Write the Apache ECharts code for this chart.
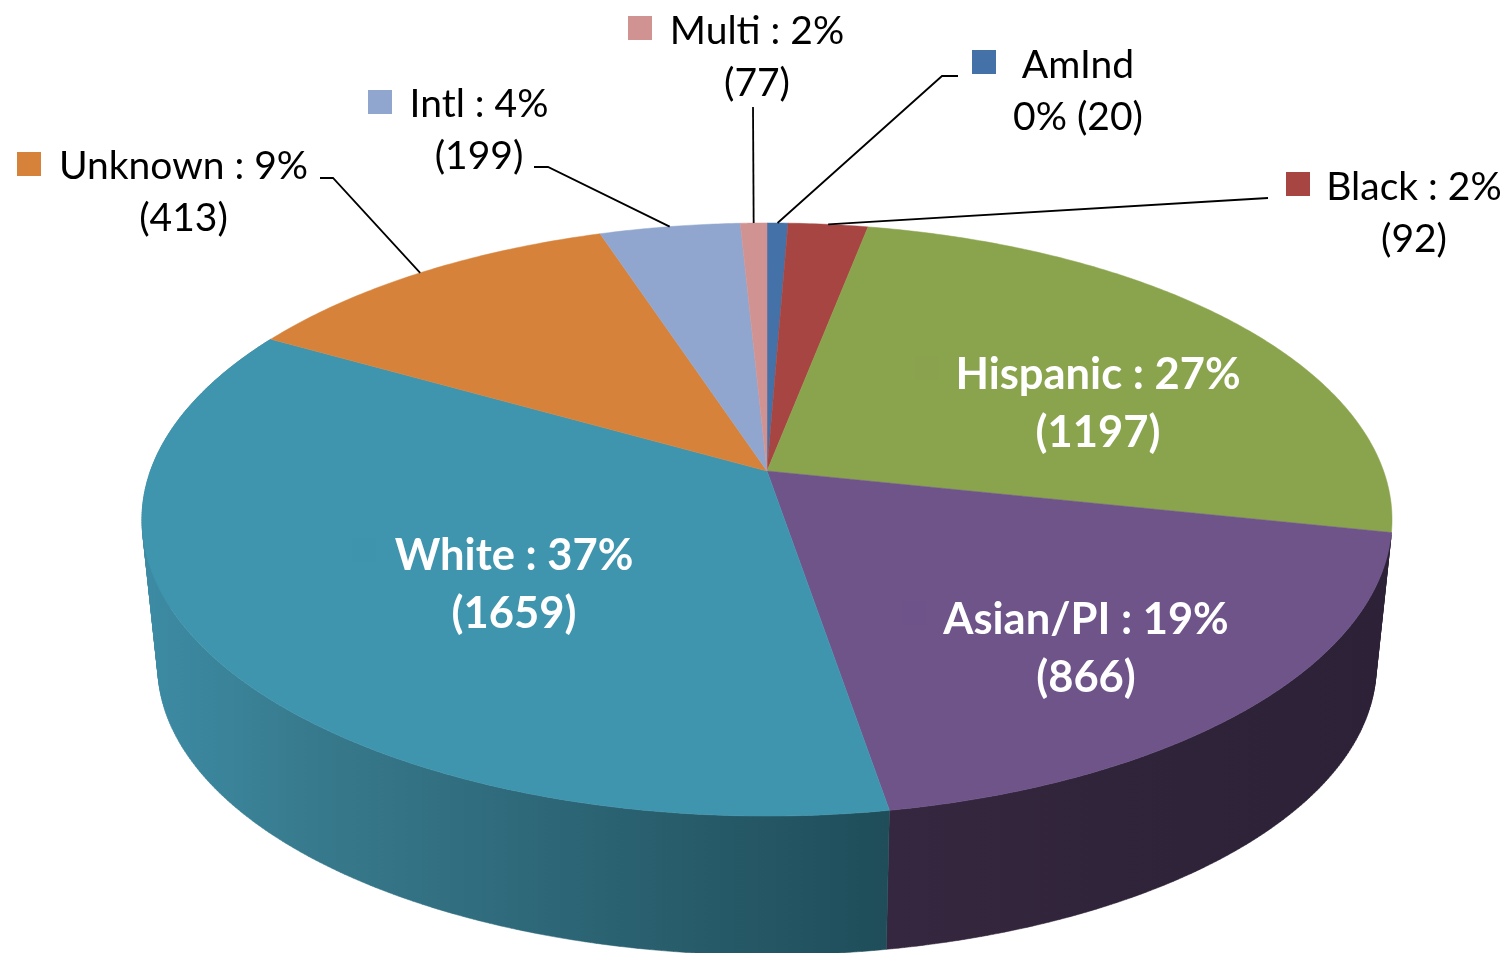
<!DOCTYPE html>
<html>
<head>
<meta charset="utf-8">
<style>html,body{margin:0;padding:0;background:#fff}#c{width:1507px;height:953px}</style>
<script src="https://cdn.jsdelivr.net/npm/echarts@6/dist/echarts.min.js"></script>
</head>
<body>
<div id="c"></div>
<script>
// ---- data ----
const categories = ['AmInd', 'Black', 'Hispanic', 'Asian/PI', 'White', 'Unknown', 'Intl', 'Multi'];
const counts = [20, 92, 1197, 866, 1659, 413, 199, 77];
const percents = [0, 2, 27, 19, 37, 9, 4, 2];

// ---- styling ----
const topColors = ['#4472A8', '#A64541', '#8AA34D', '#6F548A', '#4095AE', '#D6823B', '#90A6CE', '#D19392'];
const keyColors = ['#4472A8', '#A64541', '#8AA24E', '#6E538A', '#3F94AD', '#D6823B', '#90A6CE', '#D19392'];
const FONT = 'Lato';

// ---- 3-D view: circle -> ellipse by a perspective projection ----
const tilt = -0.1636;
const topFace = {cx: 767, cy: 471, a: 616.6, b: 288.6};
const bottomFace = {cx: 767, cy: 619, a: 601, b: 281};
// the reference's 3-D renderer skews shares a little around the ring
const warpIn  = [0, 0.0044, 0.0248, 0.2894, 0.4809, 0.8477, 0.939, 0.983, 1];
const warpOut = [0, 0.0063, 0.0305, 0.2830, 0.4734, 0.8322, 0.9494, 0.992, 1];
function warp(f) {
  for (let i = 1; i < warpIn.length; i++) {
    if (f <= warpIn[i]) {
      const t = (f - warpIn[i - 1]) / (warpIn[i] - warpIn[i - 1]);
      return warpOut[i - 1] + t * (warpOut[i] - warpOut[i - 1]);
    }
  }
  return 1;
}
function project(face, f) {
  const th = warp(f) * 2 * Math.PI, u = Math.sin(th), v = -Math.cos(th), w = 1 + tilt * v;
  return [face.cx + face.a * u / w, face.cy + face.b * v / w];
}
const total = counts.reduce((s, x) => s + x, 0);
const cum = [0];
counts.forEach(c => cum.push(cum[cum.length - 1] + c));
function arc(face, i) {
  const f0 = cum[i] / total, f1 = cum[i + 1] / total, n = Math.max(2, Math.ceil((f1 - f0) * 720));
  const pts = [];
  for (let k = 0; k <= n; k++) pts.push(project(face, f0 + (f1 - f0) * k / n));
  return pts;
}
const grad = stops => new echarts.graphic.LinearGradient(
  142, 0, 1392, 0, stops.map(s => ({offset: (s[0] - 142) / 1250, color: s[1]})), true);
const wallFill = {
  'White': grad([[142, '#3C8BA4'], [230, '#3A8399'], [300, '#387B8E'], [500, '#2F6B7C'], [700, '#275B69'], [890, '#1F4D5A']]),
  'Asian/PI': grad([[142, '#35273F'], [890, '#35273F'], [1100, '#30243A'], [1392, '#2C2137']])
};

// label placement (centre of the text block, legend key, leader knee)
const labelLayout = {
  'AmInd':    {x: 1078, y: 91,  key: [972, 50],  knee: [[958, 76], [942, 76]]},
  'Black':    {x: 1414, y: 213, key: [1286, 172], knee: [[1268, 198]]},
  'Hispanic': {x: 1098, y: 404, key: [915, 356], inner: true},
  'Asian/PI': {x: 1086, y: 649, key: [902, 601], inner: true},
  'White':    {x: 514,  y: 585, key: [352, 538], inner: true},
  'Unknown':  {x: 183.5, y: 192, key: [17, 152], knee: [[320, 178], [333, 178]]},
  'Intl':     {x: 479,  y: 130, key: [368, 90],  knee: [[534, 167], [548, 167]]},
  'Multi':    {x: 757,  y: 57,  key: [628, 16],  knee: [[753, 107]]}
};
function labelText(i) {
  const n = categories[i];
  return n === 'AmInd' ? n + '\n' + percents[i] + '% (' + counts[i] + ')'
                       : n + ' : ' + percents[i] + '%\n(' + counts[i] + ')';
}

// one compound path of same-winding quads, so the wall fills without seams
function quadPath(p) {
  let area = 0;
  p.forEach((q, j) => { const r = p[(j + 1) % p.length]; area += q[0] * r[1] - r[0] * q[1]; });
  const o = area < 0 ? p.slice().reverse() : p;
  return 'M' + o.map(q => q[0].toFixed(2) + ' ' + q[1].toFixed(2)).join('L') + 'Z';
}
function renderWall(params) {
  const i = params.dataIndex, fill = wallFill[categories[i]];
  if (!fill) return {type: 'group', children: []};
  const a = arc(topFace, i), b = arc(bottomFace, i);
  let d = '';
  for (let k = 0; k + 1 < a.length; k++) d += quadPath([a[k], a[k + 1], b[k + 1], b[k]]);
  return {type: 'path', shape: {pathData: d}, style: {fill: fill, stroke: fill, lineWidth: 0.5}};
}
function renderTop(params) {
  const i = params.dataIndex;
  const pts = [[topFace.cx, topFace.cy]].concat(arc(topFace, i));
  return {type: 'polygon', shape: {points: pts}, style: {fill: topColors[i], stroke: topColors[i], lineWidth: 0.5}};
}
function renderLabel(params) {
  const i = params.dataIndex, L = labelLayout[categories[i]], kids = [];
  kids.push({type: 'rect', shape: {x: L.key[0], y: L.key[1], width: 24, height: 24}, style: {fill: keyColors[i]}});
  if (L.knee) {
    const end = project(topFace, (cum[i] + cum[i + 1]) / 2 / total);
    kids.push({type: 'polyline', shape: {points: L.knee.concat([end])},
      style: {fill: null, stroke: '#000', lineWidth: 1.8}});
  }
  kids.push({type: 'text', style: {
    x: L.x, y: L.y, text: labelText(i), align: 'center', verticalAlign: 'middle',
    fontFamily: FONT, fontWeight: L.inner ? 'bold' : 'normal', fontSize: L.inner ? 43.5 : 39,
    lineHeight: L.inner ? 58 : 52, fill: L.inner ? '#fff' : '#000'
  }});
  return {type: 'group', children: kids};
}

const chart = echarts.init(document.getElementById('c'), null, {renderer: 'canvas'});
const seriesData = categories.map((n, i) => ({name: n, value: counts[i]}));
const base = {type: 'custom', coordinateSystem: 'none', data: seriesData, silent: true, animation: false};
chart.setOption({
  backgroundColor: '#fff',
  animation: false,
  series: [
    Object.assign({}, base, {z: 1, renderItem: renderWall}),
    Object.assign({}, base, {z: 2, renderItem: renderTop}),
    Object.assign({}, base, {z: 3, renderItem: renderLabel})
  ]
});
</script>
</body>
</html>
